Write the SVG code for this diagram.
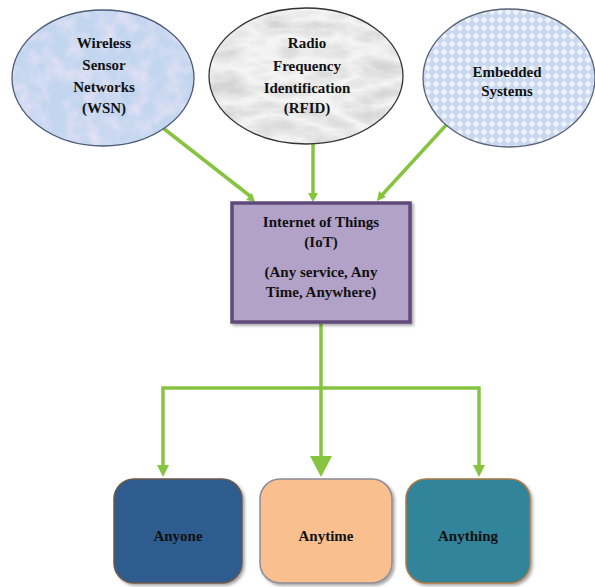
<svg xmlns="http://www.w3.org/2000/svg" width="595" height="587" viewBox="0 0 595 587">
<style>
.t{font-weight:bold;font-size:15px;fill:#111;text-anchor:middle}
.c{stroke:#86c440;fill:none;stroke-width:3.5}
.ah{fill:#86c440}
</style>
<defs>
<filter id="mottle" x="0" y="0" width="1" height="1">
<feTurbulence type="fractalNoise" baseFrequency="0.06" numOctaves="3" seed="3" result="n"/>
<feColorMatrix in="n" type="matrix" values="0 0 0 0 0.93  0 0 0 0 0.80  0 0 0 0 0.95  0 0 0 1.4 -0.55" result="c"/>
<feComposite in="c" in2="SourceGraphic" operator="in"/>
</filter>
<filter id="marble" x="0" y="0" width="1" height="1">
<feTurbulence type="turbulence" baseFrequency="0.02 0.05" numOctaves="4" seed="7" result="n"/>
<feColorMatrix in="n" type="matrix" values="0 0 0 0 0.5  0 0 0 0 0.5  0 0 0 0 0.5  0 0 0 1.6 -0.2" result="c"/>
<feComposite in="c" in2="SourceGraphic" operator="in"/>
</filter>
<pattern id="check" width="8" height="8" patternUnits="userSpaceOnUse">
<rect width="8" height="8" fill="#c9d8ef"/>
<polygon points="4,0.5 7.5,4 4,7.5 0.5,4" fill="#eef3fb"/>
</pattern>
<filter id="sh" x="-10%" y="-10%" width="125%" height="125%">
<feGaussianBlur in="SourceAlpha" stdDeviation="1.5"/>
<feOffset dx="2" dy="2" result="b"/>
<feFlood flood-color="#000" flood-opacity="0.35"/>
<feComposite in2="b" operator="in"/>
<feMerge><feMergeNode/><feMergeNode in="SourceGraphic"/></feMerge>
</filter>
</defs>

<g id="connectors">
<line class="c" x1="163" y1="128" x2="250" y2="196"/>
<polygon class="ah" points="246,200 255,202 252,193"/>
<line class="c" x1="313" y1="143" x2="313" y2="194"/>
<polygon class="ah" points="308,193 318,193 313,202"/>
<line class="c" x1="448" y1="123" x2="382" y2="195"/>
<polygon class="ah" points="379,191 377,201 386,197"/>
<line class="c" x1="321" y1="324" x2="321" y2="458" stroke-width="5"/>
<polygon class="ah" points="310,456 332,456 321,477"/>
<polyline class="c" points="163,467 163,388 479,388 479,467"/>
<polygon class="ah" points="157,465 169,465 163,477"/>
<polygon class="ah" points="473,465 485,465 479,477"/>
</g>

<g font-family="Liberation Serif, Times New Roman, serif">
<g id="wsn">
<ellipse cx="103" cy="78" rx="91" ry="68" fill="#c3d6ef"/>
<ellipse cx="103" cy="78" rx="91" ry="68" fill="#fff" filter="url(#mottle)"/>
<ellipse cx="103" cy="78" rx="91" ry="68" fill="none" stroke="#4d5a78" stroke-width="1.3"/>
<text class="t" x="104" y="48">Wireless</text>
<text class="t" x="104" y="70">Sensor</text>
<text class="t" x="104" y="92">Networks</text>
<text class="t" x="104" y="113">(WSN)</text>
</g>

<g id="rfid">
<ellipse cx="306" cy="76" rx="97" ry="68" fill="#f4f4f4"/>
<ellipse cx="306" cy="76" rx="97" ry="68" fill="#fff" filter="url(#marble)" opacity="0.55"/>
<ellipse cx="306" cy="76" rx="97" ry="68" fill="none" stroke="#333" stroke-width="1.3"/>
<text class="t" x="307" y="48">Radio</text>
<text class="t" x="307" y="71">Frequency</text>
<text class="t" x="307" y="93">Identification</text>
<text class="t" x="307" y="113">(RFID)</text>
</g>

<g id="embedded">
<ellipse cx="509" cy="78" rx="86" ry="69" fill="url(#check)" stroke="#5a6378" stroke-width="1.3"/>
<text class="t" x="507" y="77">Embedded</text>
<text class="t" x="507" y="96">Systems</text>
</g>

<g id="iot">
<rect x="232" y="203" width="178" height="119" fill="#b3a2c7" stroke="#5f497a" stroke-width="3.5" filter="url(#sh)"/>
<text class="t" x="321" y="227">Internet of Things</text>
<text class="t" x="321" y="247">(IoT)</text>
<text class="t" x="321" y="277">(Any service, Any</text>
<text class="t" x="321" y="297">Time, Anywhere)</text>
</g>

<g id="anyone">
<rect x="114" y="479" width="128" height="104" rx="20" fill="#2e5b8f" stroke="#6b5a4c" stroke-width="1.5" filter="url(#sh)"/>
<text class="t" x="178" y="541">Anyone</text>
</g>
<g id="anytime">
<rect x="260" y="479" width="132" height="104" rx="20" fill="#f9bf8f" stroke="#8c8c99" stroke-width="1.5" filter="url(#sh)"/>
<text class="t" x="326" y="541">Anytime</text>
</g>
<g id="anything">
<rect x="406" y="479" width="124" height="104" rx="20" fill="#31849b" stroke="#a67844" stroke-width="1.5" filter="url(#sh)"/>
<text class="t" x="468" y="541">Anything</text>
</g>
</g>
</svg>
